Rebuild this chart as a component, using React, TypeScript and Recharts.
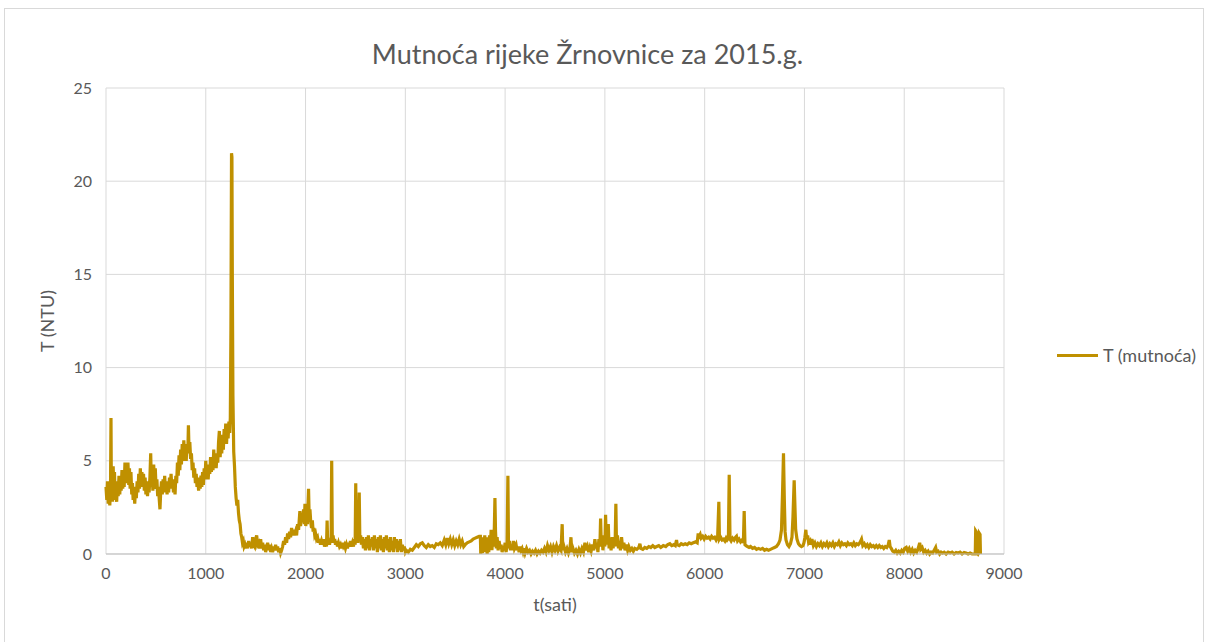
import { LineChart, Line, XAxis, YAxis, CartesianGrid, Label } from "recharts"

// readings: [hour of year, turbidity in NTU]
const winterFlood: [number, number][] = [
  [0, 3.6], [8, 2.9], [15, 3.9], [22, 2.7], [30, 3.5], [38, 2.6], [45, 3.4], [50, 7.3], [54, 3.2], [60, 4.1],
  [66, 2.8], [72, 4.7], [78, 3.3], [85, 4.4], [92, 2.9], [100, 3.6], [107, 2.8], [115, 3.9], [122, 3.1], [130, 4.2],
  [138, 3.2], [145, 4.0], [152, 3.4], [160, 4.5], [168, 3.5], [175, 4.3], [182, 3.6], [190, 4.9], [198, 3.8], [205, 4.7],
  [212, 3.9], [220, 4.9], [228, 3.7], [235, 4.6], [242, 3.5], [250, 4.4], [258, 3.2], [265, 3.8], [272, 2.9], [280, 3.4],
  [288, 2.7], [296, 3.6], [304, 3.0], [312, 3.9], [320, 3.3], [328, 4.3], [336, 3.5], [344, 4.6], [352, 3.7], [360, 4.4],
  [368, 3.6], [376, 4.3], [384, 3.4], [392, 4.1], [400, 3.2], [408, 3.9], [416, 3.1], [424, 3.7], [432, 3.3], [440, 4.1],
  [448, 5.4], [455, 3.6], [462, 4.2], [470, 3.4], [478, 4.8], [486, 3.7], [494, 4.6], [502, 3.5], [510, 4.0], [518, 3.1],
  [526, 3.6], [534, 2.9], [541, 2.4], [548, 3.3], [556, 3.9], [564, 3.2], [572, 4.0], [580, 3.3], [588, 4.2], [596, 3.4],
  [604, 3.9], [612, 3.2], [620, 3.7], [628, 3.3], [636, 4.1], [644, 3.5], [652, 4.3], [660, 3.6], [668, 4.0], [676, 3.3],
  [684, 3.6], [692, 3.2], [700, 4.2], [708, 3.8], [716, 4.9], [724, 4.2], [732, 5.3], [740, 4.5], [748, 5.6], [756, 4.8],
  [764, 5.9], [772, 5.0], [780, 6.1], [788, 5.2], [796, 5.7], [804, 5.0], [812, 5.9], [820, 5.4], [826, 6.9], [832, 5.6],
  [840, 6.0], [848, 5.1], [856, 5.4], [864, 4.5], [872, 4.9], [880, 4.1], [888, 4.6], [896, 3.8], [904, 4.3], [912, 3.6],
  [920, 4.1], [928, 3.4], [936, 3.9], [944, 3.5], [952, 4.2], [960, 3.6], [968, 4.4], [976, 3.7], [984, 4.6], [992, 4.0],
  [1000, 5.0], [1008, 4.1], [1016, 4.8], [1024, 4.0], [1032, 4.7], [1040, 4.3], [1048, 5.2], [1056, 4.4], [1064, 5.0], [1072, 4.5],
  [1080, 5.6], [1088, 4.7], [1096, 5.4], [1104, 4.6], [1112, 5.3], [1120, 4.9], [1128, 6.0], [1136, 6.6], [1144, 5.2], [1152, 6.1],
  [1160, 5.4], [1168, 6.4], [1176, 5.6], [1184, 6.7], [1192, 6.0], [1200, 7.0], [1208, 5.9], [1216, 6.8], [1224, 6.2], [1232, 7.1],
  [1240, 6.5], [1246, 7.3], [1252, 12.0], [1258, 21.5], [1262, 21.3], [1266, 15.0], [1272, 8.5], [1280, 5.5], [1288, 4.7], [1296, 3.6],
  [1304, 3.0], [1312, 2.6], [1320, 2.9], [1328, 2.2], [1336, 1.8], [1344, 1.6], [1352, 1.1], [1360, 0.9], [1368, 0.6], [1376, 0.7],
  [1384, 0.4], [1392, 0.5], [1400, 0.3], [1410, 0.6], [1420, 0.3], [1430, 0.7], [1440, 0.4], [1450, 0.6], [1460, 0.3], [1470, 0.9],
  [1480, 0.5], [1490, 0.4], [1500, 0.8], [1510, 1.0], [1520, 0.5], [1530, 0.6], [1540, 0.3],
]

const spring: [number, number][] = [
  [1550, 0.8], [1560, 0.3], [1570, 0.6], [1580, 0.2], [1590, 0.5], [1600, 0.1], [1610, 0.4], [1620, 0.6], [1630, 0.2], [1640, 0.5],
  [1650, 0.1], [1660, 0.3], [1670, 0.1], [1680, 0.4], [1690, 0.2], [1700, 0.5], [1710, 0.2], [1720, 0.4], [1730, 0.1], [1740, 0.3],
  [1750, 0.05], [1760, 0.2], [1770, 0.4], [1780, 0.7], [1790, 0.5], [1800, 0.9], [1810, 0.6], [1820, 1.1], [1830, 0.8], [1840, 1.2],
  [1850, 0.9], [1860, 1.4], [1870, 1.0], [1880, 1.3], [1890, 1.0], [1900, 1.2], [1910, 1.0], [1920, 1.6], [1930, 1.3], [1943, 2.3],
  [1950, 1.5], [1960, 2.2], [1970, 1.7], [1980, 2.4], [1988, 1.6], [1994, 2.7], [2002, 1.5], [2010, 2.0], [2018, 1.6], [2030, 3.5],
  [2036, 2.0], [2044, 2.4], [2052, 1.7], [2060, 1.4], [2068, 1.8], [2076, 1.2], [2084, 1.4], [2092, 1.0], [2100, 1.1], [2110, 0.8],
  [2120, 0.9], [2130, 0.6], [2140, 0.8], [2150, 0.5], [2160, 0.7], [2170, 0.5], [2180, 0.8], [2190, 0.4], [2200, 0.6], [2210, 0.4],
  [2216, 1.8], [2222, 0.5], [2232, 0.8], [2240, 0.5], [2248, 0.7], [2256, 0.6], [2262, 5.0], [2268, 0.8], [2276, 1.0], [2284, 0.6],
  [2292, 0.8], [2300, 0.5], [2310, 0.7], [2320, 0.4], [2330, 0.6], [2340, 0.4], [2350, 0.5], [2360, 0.3], [2370, 0.6], [2380, 0.4],
  [2390, 0.5], [2400, 0.3], [2410, 0.5], [2420, 0.3], [2430, 0.6], [2440, 0.4], [2450, 0.7], [2460, 0.4], [2470, 0.6], [2480, 0.4],
  [2490, 0.8], [2497, 0.5], [2503, 3.8], [2508, 0.6], [2516, 1.2], [2524, 0.6], [2532, 1.4], [2538, 3.3], [2544, 0.8], [2552, 1.0],
  [2560, 0.5], [2570, 0.9], [2580, 0.3], [2590, 0.8], [2600, 0.2], [2610, 0.9], [2620, 0.3], [2630, 1.0], [2640, 0.2], [2650, 0.8],
  [2660, 0.4], [2670, 0.9], [2680, 0.2], [2690, 1.0], [2700, 0.3], [2710, 0.8], [2720, 0.1], [2730, 0.9], [2740, 0.3], [2750, 1.0],
  [2760, 0.2], [2770, 0.8], [2780, 0.1], [2790, 0.9], [2800, 0.3], [2810, 1.0], [2820, 0.2], [2830, 0.8], [2840, 0.1], [2850, 0.9],
  [2860, 0.2], [2870, 0.7], [2880, 0.1], [2890, 0.9], [2900, 0.3], [2910, 0.8], [2920, 0.1], [2930, 0.7], [2940, 0.2], [2950, 0.8],
  [2960, 0.1], [2970, 0.5], [2980, 0.2], [2990, 0.4], [3000, 0.1],
]

const earlySummer: [number, number][] = [
  [3010, 0.2], [3030, 0.1], [3050, 0.25], [3070, 0.2], [3090, 0.35], [3110, 0.5], [3130, 0.4], [3150, 0.55], [3170, 0.6], [3190, 0.45],
  [3210, 0.35], [3230, 0.5], [3250, 0.4], [3270, 0.45], [3290, 0.35], [3310, 0.55], [3330, 0.5], [3350, 0.6], [3370, 0.45], [3390, 0.75],
  [3405, 0.5], [3420, 0.85], [3435, 0.55], [3450, 0.8], [3465, 0.5], [3480, 0.75], [3495, 0.45], [3510, 0.7], [3525, 0.5], [3540, 0.8],
  [3555, 0.5], [3570, 0.7], [3585, 0.4], [3600, 0.5], [3620, 0.6], [3640, 0.65], [3660, 0.7], [3680, 0.8], [3700, 0.85], [3720, 0.9],
  [3740, 0.95], [3752, 0.95], [3756, 0.0], [3764, 0.9], [3772, 0.05], [3780, 0.8], [3788, 0.1], [3796, 1.0], [3804, 0.2], [3812, 0.9],
  [3820, 0.0], [3828, 0.8], [3836, 0.1], [3844, 1.0], [3852, 0.3], [3860, 1.3], [3868, 0.2], [3876, 1.0], [3884, 0.4], [3892, 1.4],
  [3898, 3.0], [3904, 1.2], [3912, 0.3], [3920, 0.9], [3930, 0.2], [3940, 0.7], [3950, 0.3], [3960, 0.5], [3970, 0.1], [3980, 0.4],
  [3990, 0.2], [4000, 0.6], [4010, 0.1], [4020, 0.5], [4028, 4.2], [4034, 0.3], [4044, 0.7], [4054, 0.2], [4064, 0.5], [4074, 0.2],
  [4084, 0.7], [4094, 0.3],
]

const summer: [number, number][] = [
  [4110, 0.5], [4120, 0.2], [4130, 0.4], [4140, 0.1], [4150, 0.4], [4160, 0.2], [4170, 0.3], [4180, 0.1], [4190, 0.3], [4200, 0.05],
  [4215, 0.3], [4230, 0.1], [4245, 0.2], [4260, 0.0], [4275, 0.15], [4290, 0.05], [4305, 0.2], [4320, 0.0], [4335, 0.15], [4350, 0.05],
  [4365, 0.2], [4380, 0.1], [4395, 0.3], [4410, 0.1], [4425, 0.45], [4440, 0.2], [4455, 0.4], [4470, 0.1], [4485, 0.4], [4500, 0.2],
  [4515, 0.45], [4530, 0.15], [4545, 0.35], [4560, 0.2], [4572, 1.6], [4578, 0.2], [4590, 0.4], [4605, 0.1], [4620, 0.3], [4635, 0.05],
  [4650, 0.3], [4660, 0.9], [4668, 0.1], [4680, 0.3], [4695, 0.05], [4710, 0.2], [4725, 0.0], [4740, 0.25], [4755, 0.05], [4770, 0.3],
  [4785, 0.1], [4800, 0.6], [4812, 0.2], [4825, 0.4], [4838, 0.1], [4850, 0.35], [4862, 0.15], [4875, 0.5], [4888, 0.2], [4900, 0.8],
  [4910, 0.3], [4920, 0.6], [4930, 0.1], [4940, 0.8], [4950, 0.4], [4957, 1.9], [4964, 0.5], [4972, 1.0], [4980, 0.2], [4990, 0.8],
  [5000, 0.4], [5007, 2.1], [5014, 0.6], [5020, 1.2], [5027, 0.5], [5034, 1.6], [5042, 0.3], [5052, 0.8], [5062, 0.2], [5072, 0.9],
  [5082, 0.3], [5092, 0.7], [5102, 0.4], [5110, 2.7], [5116, 0.6], [5126, 1.0], [5136, 0.3], [5146, 0.7], [5156, 0.2], [5167, 0.9],
  [5178, 0.3], [5190, 0.6], [5202, 0.2], [5215, 0.5], [5228, 0.2], [5240, 0.4], [5255, 0.2], [5270, 0.3], [5285, 0.15], [5300, 0.3],
]

const autumn: [number, number][] = [
  [5320, 0.25], [5340, 0.35], [5351, 0.55], [5360, 0.3], [5380, 0.25], [5400, 0.35], [5420, 0.3], [5440, 0.4], [5460, 0.35], [5480, 0.45],
  [5500, 0.35], [5520, 0.4], [5540, 0.45], [5560, 0.35], [5585, 0.45], [5610, 0.4], [5630, 0.5], [5651, 0.55], [5670, 0.45], [5690, 0.5],
  [5705, 0.45], [5718, 0.75], [5725, 0.5], [5745, 0.45], [5765, 0.55], [5785, 0.5], [5805, 0.55], [5825, 0.5], [5845, 0.6], [5865, 0.55],
  [5885, 0.6], [5910, 0.65], [5925, 0.6], [5935, 1.1], [5945, 0.95], [5955, 1.05], [5965, 0.85], [5980, 0.95], [5995, 0.8], [6010, 0.95],
  [6025, 0.85], [6040, 0.9], [6055, 0.8], [6070, 0.95], [6085, 0.85], [6100, 0.9], [6115, 0.75], [6130, 0.9], [6142, 2.8], [6148, 0.8],
  [6160, 0.9], [6175, 0.75], [6190, 0.8], [6203, 0.7], [6215, 0.85], [6225, 0.75], [6238, 0.85], [6246, 4.25], [6254, 0.8], [6265, 0.7],
  [6280, 0.85], [6295, 0.75], [6310, 0.9], [6319, 0.95], [6330, 0.7], [6345, 0.8], [6360, 0.65], [6375, 0.75], [6388, 0.6], [6396, 2.3],
  [6404, 0.5], [6415, 0.45], [6430, 0.4], [6445, 0.35], [6460, 0.4], [6480, 0.3], [6500, 0.35], [6520, 0.25], [6540, 0.3], [6560, 0.25],
  [6580, 0.3], [6600, 0.2], [6620, 0.25], [6640, 0.2], [6660, 0.25], [6680, 0.3], [6700, 0.35], [6720, 0.4], [6740, 0.55], [6755, 0.75],
  [6770, 1.3], [6780, 3.2], [6790, 5.4], [6798, 3.0], [6806, 1.2], [6815, 0.75], [6830, 0.5], [6845, 0.4], [6860, 0.55], [6875, 0.9],
  [6885, 2.0], [6897, 3.95], [6905, 2.5], [6912, 1.3], [6925, 0.8], [6940, 0.55], [6955, 0.45], [6970, 0.4], [6985, 0.45], [6995, 0.6],
  [7005, 0.9], [7014, 1.3], [7022, 0.8], [7032, 1.0], [7042, 0.6], [7055, 0.7],
]

const lateAutumn: [number, number][] = [
  [7060, 0.5], [7075, 0.8], [7090, 0.45], [7105, 0.6], [7120, 0.4], [7135, 0.55], [7150, 0.45], [7165, 0.6], [7180, 0.4], [7195, 0.55],
  [7210, 0.45], [7225, 0.6], [7240, 0.4], [7255, 0.55], [7270, 0.45], [7285, 0.6], [7300, 0.4], [7315, 0.55], [7330, 0.5], [7345, 0.65],
  [7360, 0.45], [7375, 0.6], [7390, 0.5], [7405, 0.55], [7420, 0.45], [7435, 0.6], [7450, 0.5], [7465, 0.55], [7480, 0.45], [7495, 0.6],
  [7510, 0.45], [7525, 0.55], [7540, 0.5], [7555, 0.6], [7572, 0.8], [7585, 0.45], [7600, 0.55], [7615, 0.4], [7630, 0.5], [7645, 0.35],
  [7660, 0.5], [7675, 0.4], [7690, 0.45], [7705, 0.35], [7720, 0.45], [7735, 0.35], [7750, 0.45], [7765, 0.35], [7780, 0.4], [7795, 0.3],
  [7810, 0.4], [7825, 0.35], [7840, 0.5], [7850, 0.75], [7858, 0.4], [7870, 0.3], [7885, 0.15], [7900, 0.1], [7915, 0.2], [7930, 0.05],
  [7945, 0.15], [7960, 0.05], [7975, 0.2], [7990, 0.1], [8005, 0.3], [8020, 0.35], [8035, 0.15], [8050, 0.3], [8065, 0.1], [8080, 0.25],
  [8095, 0.05], [8110, 0.2], [8125, 0.1], [8140, 0.3], [8155, 0.6], [8165, 0.25], [8180, 0.35], [8195, 0.1], [8210, 0.2], [8225, 0.05],
  [8240, 0.15], [8255, 0.0], [8270, 0.1], [8285, 0.05], [8300, 0.2], [8315, 0.35], [8325, 0.1], [8340, 0.15], [8355, 0.0], [8370, 0.1],
  [8385, 0.05], [8400, 0.1], [8420, 0.0], [8440, 0.1], [8460, 0.05], [8480, 0.1], [8500, 0.0], [8520, 0.08], [8540, 0.05], [8560, 0.1],
  [8580, 0.0], [8600, 0.08], [8620, 0.05], [8640, 0.0], [8660, 0.05], [8680, 0.0], [8700, 0.0], [8712, 0.0], [8716, 1.25], [8722, 1.2],
  [8726, 0.1], [8740, 0.0], [8750, 0.1], [8754, 1.1], [8760, 1.05], [8764, 0.0],
]

const hourTicks = [0, 1000, 2000, 3000, 4000, 5000, 6000, 7000, 8000, 9000]
const ntuTicks = [0, 5, 10, 15, 20, 25]

const TITLE = "Mutnoća rijeke Žrnovnice za 2015.g."
const SERIES_NAME = "T (mutnoća)"
const GOLD = "#BF9000"
const TEXT = "#595959"
const FONT = "Lato, 'Open Sans', sans-serif"

const data = [...winterFlood, ...spring, ...earlySummer, ...summer, ...autumn, ...lateAutumn].map(([hour, ntu]) => ({ hour, ntu }))

export default function App() {
  return (
    <div style={{ position: "absolute", left: 0, top: 0, width: 1205, height: 642, background: "#fff", overflow: "hidden", fontFamily: FONT }}>
      <div style={{ position: "absolute", left: 4, top: 8, width: 1198, height: 640, border: "1px solid #d9d9d9" }} />
      <div style={{ position: "absolute", left: 0, top: 0 }}>
        <LineChart width={1205} height={642} data={data} margin={{ top: 88, right: 201, bottom: 28, left: 46 }}>
          <CartesianGrid stroke="#d9d9d9" />
          <XAxis
            dataKey="hour"
            type="number"
            domain={[0, 9000]}
            ticks={hourTicks}
            interval={0}
            tickLine={false}
            tickSize={0}
            tickMargin={14}
            height={60}
            axisLine={{ stroke: "#bfbfbf" }}
            tick={{ fill: TEXT, fontSize: 16, fontFamily: FONT }}
          >
            <Label value="t(sati)" position="insideBottom" offset={3} fill={TEXT} fontSize={18} fontFamily={FONT} />
          </XAxis>
          <YAxis
            type="number"
            domain={[0, 25]}
            ticks={ntuTicks}
            interval={0}
            width={60}
            tickLine={false}
            tickSize={0}
            tickMargin={14}
            axisLine={false}
            tick={{ fill: TEXT, fontSize: 16, fontFamily: FONT }}
          >
            <Label value="T (NTU)" angle={-90} position="insideLeft" offset={2} fill={TEXT} fontSize={18} fontFamily={FONT} style={{ textAnchor: "middle" }} />
          </YAxis>
          <Line
            type="linear"
            dataKey="ntu"
            name={SERIES_NAME}
            stroke={GOLD}
            strokeWidth={3.2}
            dot={false}
            isAnimationActive={false}
          />
        </LineChart>
      </div>
      <div style={{ position: "absolute", left: 0, top: 38, width: 1175, textAlign: "center", fontSize: 27, color: TEXT, lineHeight: "32px" }}>
        {TITLE}
      </div>
      <div style={{ position: "absolute", left: 1057, top: 344, display: "flex", alignItems: "center", fontSize: 18, color: TEXT }}>
        <span style={{ display: "inline-block", width: 41, height: 3, background: GOLD, marginRight: 5 }} />
        <span>{SERIES_NAME}</span>
      </div>
    </div>
  )
}
